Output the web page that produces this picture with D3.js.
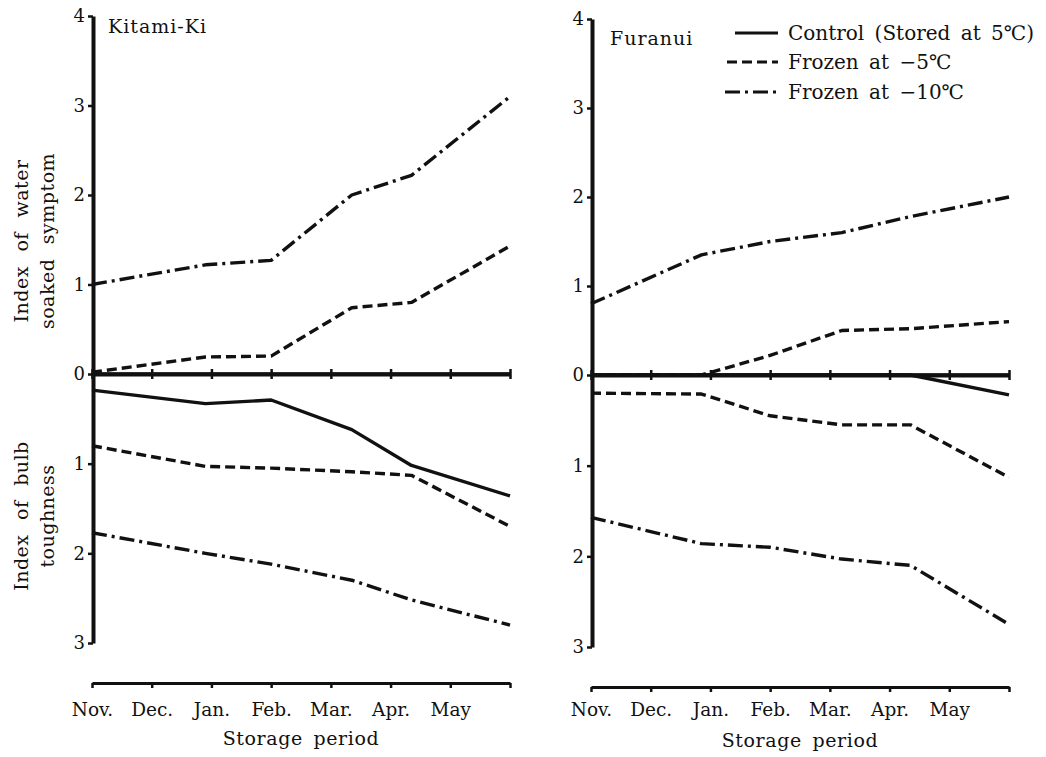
<!DOCTYPE html>
<html>
<head>
<meta charset="utf-8">
<script src="https://cdn.jsdelivr.net/npm/d3@7"></script>
<style>
  html, body { margin: 0; padding: 0; background: #fff; }
  svg text { font-family: "DejaVu Serif", "Liberation Serif", serif; fill: #111; }
</style>
</head>
<body>
<div id="chart"></div>
<script>
// storage period ticks (last tick has no label)
const months = ["Nov.", "Dec.", "Jan.", "Feb.", "Mar.", "Apr.", "May", ""];

// sampling positions, in month units from Nov.
const kitamiSampleX = [0, 1.9, 3, 4.35, 5.35, 7];
const furanuiSampleX = [0, 1.85, 3, 4.2, 5.35, 7];

// Kitami-Ki : index of water soaked symptom
const kitamiSoakControl = [0, 0, 0, 0, 0, 0];
const kitamiSoakMinus5 = [0.02, 0.19, 0.2, 0.74, 0.8, 1.43];
const kitamiSoakMinus10 = [1.0, 1.22, 1.27, 2.0, 2.22, 3.1];
// Kitami-Ki : index of bulb toughness
const kitamiToughControl = [0.18, 0.33, 0.29, 0.62, 1.02, 1.36];
const kitamiToughMinus5 = [0.8, 1.03, 1.05, 1.09, 1.13, 1.7];
const kitamiToughMinus10 = [1.77, 2.0, 2.12, 2.3, 2.52, 2.8];

// Furanui : index of water soaked symptom
const furanuiSoakControl = [0, 0, 0, 0, 0, 0];
const furanuiSoakMinus5 = [0, 0, 0.22, 0.5, 0.52, 0.6];
const furanuiSoakMinus10 = [0.8, 1.35, 1.5, 1.6, 1.78, 2.0];
// Furanui : index of bulb toughness
const furanuiToughControl = [0, 0, 0, 0, 0, 0.22];
const furanuiToughMinus5 = [0.2, 0.21, 0.45, 0.55, 0.55, 1.13];
const furanuiToughMinus10 = [1.57, 1.86, 1.9, 2.03, 2.1, 2.75];

const soakTicks = [0, 1, 2, 3, 4];
const toughTicks = [1, 2, 3];

const legendLabels = ["Control (Stored at 5\u2103)", "Frozen at \u22125\u2103", "Frozen at \u221210\u2103"];
const dashes = [null, "10,5", "15,5,3,5"];

const W = 1046, H = 757;

const svg = d3.select("#chart").append("svg")
  .attr("width", W).attr("height", H)
  .attr("viewBox", `0 0 ${W} ${H}`);

const panels = [
  { name: "Kitami-Ki", sx: kitamiSampleX,
    soak: [kitamiSoakControl, kitamiSoakMinus5, kitamiSoakMinus10],
    tough: [kitamiToughControl, kitamiToughMinus5, kitamiToughMinus10],
    x0: 92, yTop: 16, yZero: 374, yBot: 643, xAxisY: 683, pad: 15, titleY: 745,
    nameX: 108, nameY: 33, yLabels: true },
  { name: "Furanui", sx: furanuiSampleX,
    soak: [furanuiSoakControl, furanuiSoakMinus5, furanuiSoakMinus10],
    tough: [furanuiToughControl, furanuiToughMinus5, furanuiToughMinus10],
    x0: 591, yTop: 19, yZero: 375, yBot: 647, xAxisY: 687, pad: 11, titleY: 747,
    nameX: 610, nameY: 45, yLabels: false }
];

panels.forEach(p => {
  const g = svg.append("g");

  const x = d3.scaleLinear().domain([0, 7]).range([p.x0, p.x0 + 418]);
  const yS = d3.scaleLinear().domain([0, 4]).range([p.yZero, p.yTop]);
  const yT = d3.scaleLinear().domain([0, 3]).range([p.yZero, p.yBot]);

  // y axes (upper: soaked symptom, lower: toughness, inverted)
  const axL = p.x0 + 1;
  [[yS, soakTicks], [yT, toughTicks]].forEach(([sc, tv]) => {
    const a = g.append("g")
      .attr("transform", `translate(${axL},0)`)
      .call(d3.axisLeft(sc).tickValues(tv).tickFormat(d3.format("d"))
        .tickSize(5).tickSizeOuter(0).tickPadding(3));
    a.select(".domain").attr("stroke", "#111").attr("stroke-width", 4);
    a.selectAll(".tick line").attr("stroke", "#111").attr("stroke-width", 2.5);
    a.selectAll(".tick text").style("font-size", "18px").attr("fill", "#111");
  });

  // zero line with crossing ticks
  const z = g.append("g")
    .attr("transform", `translate(0,${p.yZero})`)
    .call(d3.axisBottom(x).tickValues(d3.range(8)).tickFormat("").tickSize(5).tickSizeOuter(0));
  z.select(".domain").attr("stroke", "#111").attr("stroke-width", 4);
  z.selectAll(".tick line").attr("y1", -5).attr("stroke", "#111").attr("stroke-width", 2.5);

  // storage period axis
  const xa = g.append("g")
    .attr("transform", `translate(0,${p.xAxisY})`)
    .call(d3.axisBottom(x).tickValues(d3.range(8)).tickFormat(i => months[i])
      .tickSize(5).tickSizeOuter(0).tickPadding(p.pad));
  xa.select(".domain").attr("stroke", "#111").attr("stroke-width", 3);
  xa.selectAll(".tick line").attr("stroke", "#111").attr("stroke-width", 2.5);
  xa.selectAll(".tick text").style("font-size", "18.5px").attr("fill", "#111");

  g.append("text")
    .attr("x", p.x0 + 209).attr("y", p.titleY)
    .attr("text-anchor", "middle")
    .style("font-size", "19px")
    .style("letter-spacing", "0.6px")
    .style("word-spacing", "4px")
    .text("Storage period");

  g.append("text")
    .attr("x", p.nameX).attr("y", p.nameY)
    .style("font-size", "19px")
    .style("letter-spacing", "1px")
    .text(p.name);

  // series
  const lineS = d3.line().x((d, i) => x(p.sx[i])).y(d => yS(d));
  const lineT = d3.line().x((d, i) => x(p.sx[i])).y(d => yT(d));
  p.soak.forEach((vals, k) => {
    g.append("path").attr("d", lineS(vals))
      .attr("fill", "none").attr("stroke", "#111").attr("stroke-width", 3.4)
      .attr("stroke-linejoin", "round")
      .attr("stroke-dasharray", dashes[k]);
  });
  p.tough.forEach((vals, k) => {
    g.append("path").attr("d", lineT(vals))
      .attr("fill", "none").attr("stroke", "#111").attr("stroke-width", 3.4)
      .attr("stroke-linejoin", "round")
      .attr("stroke-dasharray", dashes[k]);
  });

  if (p.yLabels) {
    const lab = (lines, cy) => {
      lines.forEach((t, i) => {
        g.append("text")
          .attr("transform", `translate(${28 + i * 26},${cy}) rotate(-90)`)
          .attr("text-anchor", "middle")
          .style("font-size", "19px")
          .style("letter-spacing", "0.5px")
          .style("word-spacing", "8px")
          .text(t);
      });
    };
    lab(["Index of water", "soaked symptom"], 241);
    lab(["Index of bulb", "toughness"], 516);
  }
});

// legend
const leg = svg.append("g");
const legRows = [33, 62, 92];
const legX1 = [735, 727, 725];
legendLabels.forEach((t, k) => {
  leg.append("line")
    .attr("x1", legX1[k]).attr("x2", 778)
    .attr("y1", legRows[k]).attr("y2", legRows[k])
    .attr("stroke", "#111").attr("stroke-width", 3)
    .attr("stroke-dasharray", dashes[k]);
  leg.append("text")
    .attr("x", 788).attr("y", legRows[k] + 7)
    .style("font-size", "20px")
    .style("word-spacing", "4px")
    .text(t);
});
</script>
</body>
</html>
